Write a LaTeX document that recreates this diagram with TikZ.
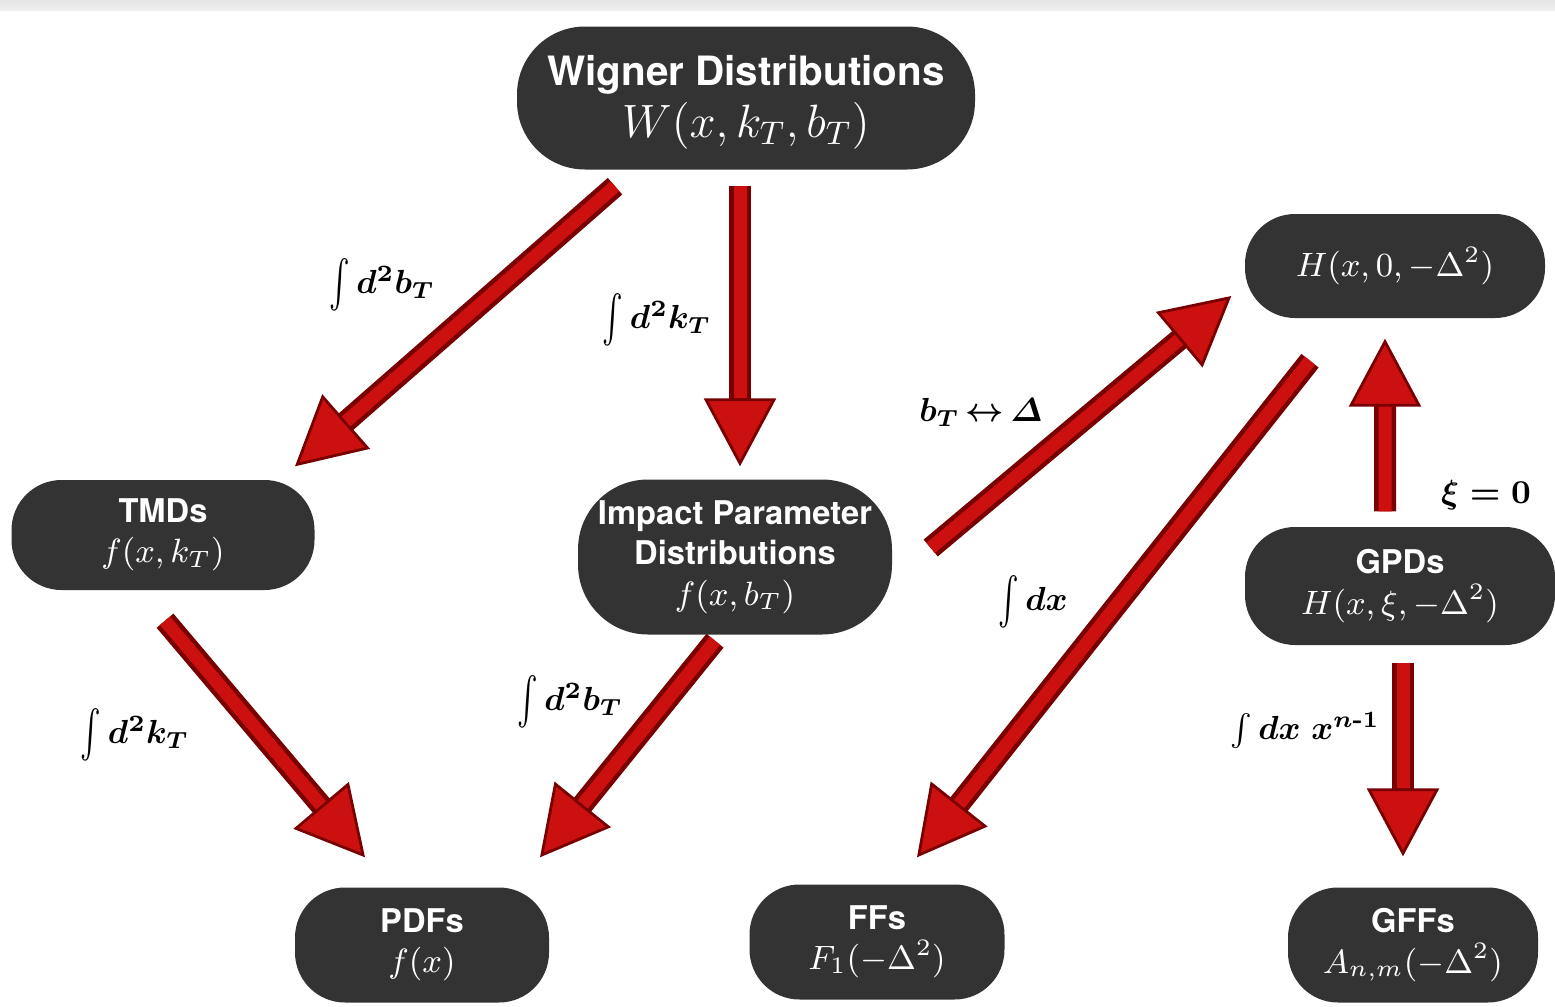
\documentclass[tikz,border=0pt]{standalone}
\usepackage{fix-cm}
\usepackage{amsmath}
\usepackage{graphicx}
\usepackage{fontspec}
\setsansfont{TeX Gyre Heros}
\usetikzlibrary{arrows.meta, calc}
\definecolor{nodegray}{RGB}{51,51,51}
\definecolor{arrowred}{RGB}{204,16,16}
\definecolor{arrowdark}{RGB}{120,0,0}
\newcommand{\nodemath}[1]{{\fontsize{9.6}{11.5}\selectfont$#1$}}
\newcommand{\tallint}{\mathop{\vcenter{\hbox{\scalebox{0.95}[1.5]{$\int$}}}}\nolimits}

\begin{document}
\begin{tikzpicture}[
  distnode/.style={rectangle, fill=nodegray, text=white, align=center, rounded corners=0.5cm, inner sep=0pt, font=\sffamily\bfseries\fontsize{9.3}{11.5}\selectfont},
  bigarrow/.style={line width=0.22cm, draw=arrowdark, -{Triangle[length=6.8mm, width=7.2mm, fill=arrowred, line width=0.8pt]}, postaction={draw=arrowred, line width=0.13cm, shorten >=6.8mm, -}},
  intlabel/.style={font=\fontsize{9.5}{11}\selectfont\boldmath}
]
  \useasboundingbox (0,0) rectangle (15.55,-10.07);
  \fill[top color=gray!20, bottom color=gray!12] (0,0) rectangle (15.55,-0.10);

  % Distribuciones
  \node[distnode, minimum width=4.58cm, minimum height=1.43cm, rounded corners=0.68cm, font=\sffamily\bfseries\fontsize{11.5}{14}\selectfont] (wigner) at (7.46,-0.98) {\rule{0pt}{11pt}Wigner Distributions\\[0.03cm]{\fontsize{13.3}{15}\selectfont$W(x,k_T,b_T)$}};
  \node[distnode, minimum width=3.00cm, minimum height=1.04cm] (hzero) at (13.95,-2.66) {\nodemath{H(x,0,-\Delta^2)}};
  \node[distnode, minimum width=3.03cm, minimum height=1.10cm] (tmds) at (1.63,-5.35) {TMDs\\\nodemath{f(x,k_T)}};
  \node[distnode, minimum width=3.14cm, minimum height=1.55cm, rounded corners=0.7cm] (ipd) at (7.35,-5.57) {Impact Parameter\\Distributions\\\nodemath{f(x,b_T)}};
  \node[distnode, minimum width=3.10cm, minimum height=1.18cm] (gpds) at (14.00,-5.86) {GPDs\\\nodemath{H(x,\xi,-\Delta^2)}};
  \node[distnode, minimum width=2.54cm, minimum height=1.15cm] (pdfs) at (4.22,-9.45) {PDFs\\\nodemath{f(x)}};
  \node[distnode, minimum width=2.55cm, minimum height=1.15cm] (ffs) at (8.77,-9.42) {FFs\\\nodemath{F_1(-\Delta^2)}};
  \node[distnode, minimum width=2.50cm, minimum height=1.15cm] (gffs) at (14.13,-9.45) {GFFs\\\nodemath{A_{n,m}(-\Delta^2)}};

  % Flechas
  \draw[bigarrow] ([shift={(-1.31,-0.16)}]wigner.south) -- ([shift={(1.32,0.13)}]tmds.north);
  \draw[bigarrow] ([shift={(-0.06,-0.16)}]wigner.south) -- ([shift={(0.05,0.125)}]ipd.north);
  \draw[bigarrow] ([shift={(0.38,0.09)}]ipd.east) -- ([shift={(-0.13,-0.30)}]hzero.west);
  \draw[bigarrow] ([shift={(-0.85,-0.42)}]hzero.south) -- ([shift={(0.40,0.265)}]ffs.north);
  \draw[bigarrow] ([shift={(-0.15,0.15)}]gpds.north) -- ([shift={(-0.10,-0.20)}]hzero.south);
  \draw[bigarrow] ([shift={(0.03,-0.17)}]gpds.south) -- ([shift={(-0.10,0.305)}]gffs.north);
  \draw[bigarrow] ([shift={(0.02,-0.30)}]tmds.south) -- ([shift={(-0.57,0.295)}]pdfs.north);
  \draw[bigarrow] ([shift={(-0.20,-0.055)}]ipd.south) -- ([shift={(1.18,0.295)}]pdfs.north);

  % Etiquetas
  \node[intlabel] (intbw) at (3.82,-2.85) {$\tallint d^2b_T$};
  \node[intlabel] (intkw) at (6.57,-3.20) {$\tallint d^2k_T$};
  \node[intlabel] (swap) at (9.81,-4.12) {$b_T\,{\leftrightarrow}\,\varDelta$};
  \node[intlabel] (intdx) at (10.33,-6.02) {$\tallint dx$};
  \node[intlabel] (xizero) at (14.86,-4.95) {$\xi=0$};
  \node[intlabel] (intmom) at (13.05,-7.30) {$\int dx\; x^{n\text{\bfseries -1}}$};
  \node[intlabel] (intkt) at (1.35,-7.35) {$\tallint d^2k_T$};
  \node[intlabel] (intbt) at (5.70,-7.02) {$\tallint d^2b_T$};
\end{tikzpicture}
\end{document}
